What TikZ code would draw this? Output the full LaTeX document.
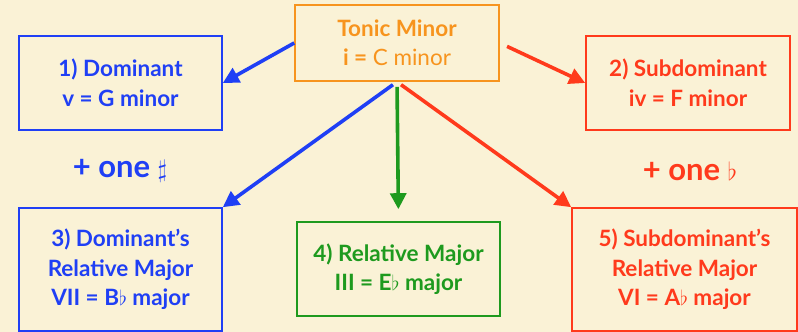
\documentclass[tikz,border=0pt]{standalone}
\usepackage{fontspec}
\setmainfont{Lato}
\usetikzlibrary{arrows.meta,positioning}
\definecolor{cream}{HTML}{FAF2D6}
\definecolor{tonicorange}{HTML}{F7941E}
\definecolor{domblue}{HTML}{1F3FF5}
\definecolor{subred}{HTML}{FF3A1C}
\definecolor{relgreen}{HTML}{1E9A1E}

\begin{document}
\begin{tikzpicture}[x=1pt,y=1pt,>={Triangle[length=16pt,width=16pt]},
  box/.style={draw,line width=1.6pt,align=center,inner sep=0pt,
    font=\bfseries\fontsize{22.5}{29.5}\selectfont},
  link/.style={->,line width=3.6pt},
  extra/.style={font=\bfseries\fontsize{31}{34}\selectfont}]
  \fill[cream] (0,0) rectangle (798,332);
  \node[box,tonicorange,minimum width=204pt,minimum height=76pt] (tonic) at (397,289)
    {Tonic Minor\\i = {\mdseries C minor}};
  \node[box,domblue,minimum width=203pt,minimum height=94pt] (dom) at (120.5,249)
    {1) Dominant\\v = G minor};
  \node[box,subred,minimum width=204pt,minimum height=94pt] (sub) at (688,249)
    {2) Subdominant\\iv = F minor};
  \node[box,domblue,minimum width=203pt,minimum height=123pt] (domrel) at (120.5,62.5)
    {3) Dominant’s\\Relative Major\\VII = B{\mdseries$\flat$} major};
  \node[box,relgreen,minimum width=203pt,minimum height=94pt] (rel) at (398.5,63)
    {4) Relative Major\\III = E{\mdseries$\flat$} major};
  \node[box,subred,minimum width=225pt,minimum height=123pt] (subrel) at (684.5,62.5)
    {5) Subdominant’s\\Relative Major\\VI = A{\mdseries$\flat$} major};
  \node[extra,domblue] (sharp) at (120,161) {+ one {\mdseries$\sharp$}};
  \node[extra,subred] (flat) at (690,161) {+ one {\mdseries$\flat$}};
  \draw[link,domblue] (tonic.west) -- (dom.east);
  \draw[link,subred,shorten <=8pt] (tonic.east) -- (sub.west);
  \foreach \tgt/\col/\anc/\gap in {domrel/domblue/north east/0,rel/relgreen/north/12,subrel/subred/north west/0}
    \draw[link,\col,shorten <=5pt,shorten >=\gap pt] (tonic.south) -- (\tgt.\anc);
\end{tikzpicture}
\end{document}
